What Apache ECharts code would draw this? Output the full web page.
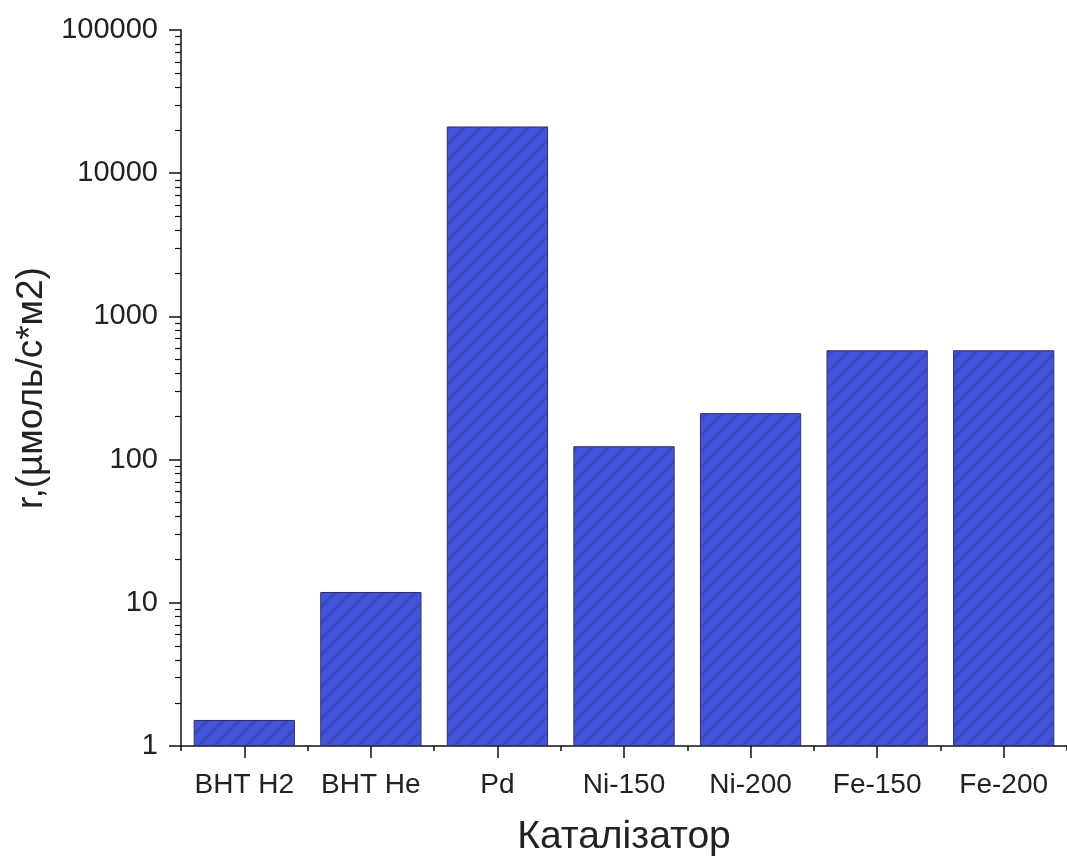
<!DOCTYPE html>
<html>
<head>
<meta charset="utf-8">
<script src="https://cdn.jsdelivr.net/npm/echarts@6/dist/echarts.min.js"></script>
<style>
html,body{margin:0;padding:0;background:#fff;}
#chart{width:1067px;height:856px;}
</style>
</head>
<body>
<div id="chart"></div>
<script>
// ---- data ----
const categories = ['BHT H2', 'BHT He', 'Pd', 'Ni-150', 'Ni-200', 'Fe-150', 'Fe-200'];
const rates = [1.52, 11.9, 21200, 124, 211, 580, 580];
const yTicks = [1, 10, 100, 1000, 10000, 100000];
const yMinorTicks = [2,3,4,5,6,7,8,9,20,30,40,50,60,70,80,90,200,300,400,500,600,700,800,900,
  2000,3000,4000,5000,6000,7000,8000,9000,20000,30000,40000,50000,60000,70000,80000,90000];
const xName = 'Каталізатор';
const yName = 'r,(µмоль/с*м2)';

// hatch pattern
function makePattern() {
  const s = 16;
  const c = document.createElement('canvas');
  c.width = s; c.height = s;
  const ctx = c.getContext('2d');
  ctx.fillStyle = '#4453d8';
  ctx.fillRect(0, 0, s, s);
  ctx.strokeStyle = '#3a48be';
  ctx.lineWidth = 3;
  for (const k of [-s, 0, s]) {
    ctx.beginPath();
    ctx.moveTo(k, s);
    ctx.lineTo(k + s, 0);
    ctx.stroke();
  }
  return c;
}

const font = 'Liberation Sans, Arial, sans-serif';
const chart = echarts.init(document.getElementById('chart'), null, {renderer: 'canvas'});
chart.setOption({
  animation: false,
  backgroundColor: '#ffffff',
  grid: {left: 181, right: 0, top: 30, bottom: 110, containLabel: false, outerBoundsMode: 'none'},
  xAxis: [{
    type: 'category',
    data: categories,
    position: 'bottom',
    axisLine: {show: true, lineStyle: {color: '#111', width: 1.5}},
    axisTick: {show: true, alignWithLabel: true, length: 12, lineStyle: {color: '#111', width: 1.5}},
    axisLabel: {fontSize: 28, color: '#222', fontFamily: font, margin: 25, interval: 0},
    name: xName,
    nameLocation: 'middle',
    nameGap: 72,
    nameTextStyle: {fontSize: 39, color: '#222', fontFamily: font},
    splitLine: {show: false}
  }, {
    type: 'category',
    data: categories,
    position: 'bottom',
    axisLine: {show: false},
    axisTick: {show: true, alignWithLabel: false, length: 5, lineStyle: {color: '#111', width: 1.5}},
    axisLabel: {show: false},
    splitLine: {show: false}
  }],
  yAxis: [{
    type: 'log',
    logBase: 10,
    min: 1,
    max: 100000,
    axisLine: {show: true, lineStyle: {color: '#111', width: 1.5}},
    axisTick: {show: true, length: 12, customValues: yTicks, lineStyle: {color: '#111', width: 1.5}},
    axisLabel: {
      fontSize: 29, color: '#222', fontFamily: font, margin: 23,
      customValues: yTicks,
      formatter: v => String(Math.round(v))
    },
    splitLine: {show: false},
    name: yName,
    nameLocation: 'middle',
    nameGap: 126,
    nameRotate: 90,
    nameTextStyle: {fontSize: 37, color: '#222', fontFamily: font}
  }, {
    type: 'log',
    logBase: 10,
    min: 1,
    max: 100000,
    position: 'left',
    axisLine: {show: false},
    axisTick: {show: true, length: 6, customValues: yMinorTicks, lineStyle: {color: '#111', width: 1.2}},
    axisLabel: {show: false},
    splitLine: {show: false}
  }],
  series: [{
    type: 'bar',
    data: rates,
    xAxisIndex: 0,
    yAxisIndex: 0,
    barCategoryGap: '20%',
    itemStyle: {
      color: {image: makePattern(), repeat: 'repeat'},
      borderColor: '#2b2f6a',
      borderWidth: 1
    }
  }]
});
</script>
</body>
</html>
